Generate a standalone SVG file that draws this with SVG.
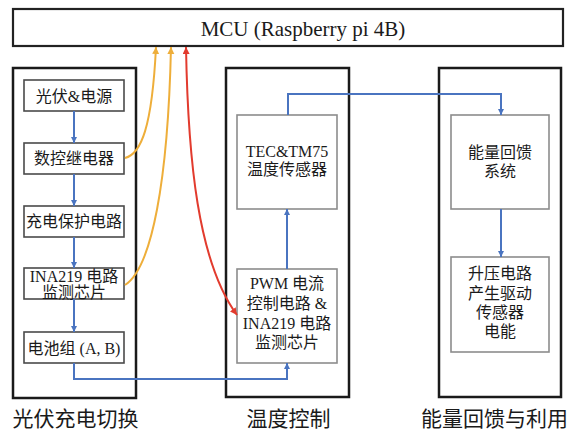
<svg xmlns="http://www.w3.org/2000/svg" width="574" height="432" viewBox="0 0 574 432">
  <style>
    .panel { fill: none; stroke: #1a1a1a; stroke-width: 2.5; }
    .mcu { fill: #fff; stroke: #222; stroke-width: 2.2; }
    .boxL { fill: #fff; stroke: #4a4a4a; stroke-width: 1.6; }
    .boxR { fill: #fff; stroke: #8c8c8c; stroke-width: 1.6; }
    .t { font-family: "Liberation Serif", "Noto Sans CJK SC", serif; font-size: 16px; fill: #1a1a1a; text-anchor: middle; }
    .big { font-family: "Liberation Serif", "Noto Sans CJK SC", serif; font-size: 21px; fill: #1a1a1a; text-anchor: middle; }
    .blue { fill: none; stroke: #4a74c0; stroke-width: 2; marker-end: url(#ab); }
    .orange { fill: none; stroke: #eeae3a; stroke-width: 2; marker-end: url(#ao); }
    .red { fill: none; stroke: #e23b2e; stroke-width: 2; marker-start: url(#ar); marker-end: url(#ar); }
  </style>
  <defs>
    <marker id="ab" markerUnits="userSpaceOnUse" markerWidth="8" markerHeight="8" refX="6" refY="3" orient="auto-start-reverse">
      <path d="M0,0 L6,3 L0,6 Z" fill="#4a74c0"/>
    </marker>
    <marker id="ao" markerUnits="userSpaceOnUse" markerWidth="10" markerHeight="10" refX="7" refY="3.5" orient="auto-start-reverse">
      <path d="M0,0 L7,3.5 L0,7 Z" fill="#eeae3a"/>
    </marker>
    <marker id="ar" markerUnits="userSpaceOnUse" markerWidth="10" markerHeight="10" refX="7" refY="3.5" orient="auto-start-reverse">
      <path d="M0,0 L7,3.5 L0,7 Z" fill="#e23b2e"/>
    </marker>
  </defs>

  <rect width="574" height="432" fill="#fff"/>

  <!-- controller -->
  <g id="mcu">
    <rect class="mcu" x="13" y="9" width="550" height="37"/>
    <text class="big" x="303" y="36">MCU (Raspberry pi 4B)</text>
  </g>

  <!-- panels -->
  <g id="panel-pv">
    <rect class="panel" x="13" y="68" width="123" height="330"/>
    <text class="big" x="75.5" y="426">光伏充电切换</text>
  </g>
  <g id="panel-temp">
    <rect class="panel" x="226" y="68" width="123" height="329"/>
    <text class="big" x="288.5" y="426">温度控制</text>
  </g>
  <g id="panel-energy">
    <rect class="panel" x="439" y="68" width="122" height="329"/>
    <text class="big" x="494.5" y="426">能量回馈与利用</text>
  </g>

  <!-- PV charging column -->
  <g id="pv-source">
    <rect class="boxL" x="24" y="80" width="100" height="31"/>
    <text class="t" x="74" y="101.5">光伏&amp;电源</text>
  </g>
  <g id="relay">
    <rect class="boxL" x="24" y="143" width="100" height="31"/>
    <text class="t" x="74" y="164">数控继电器</text>
  </g>
  <g id="charge-protect">
    <rect class="boxL" x="24" y="206" width="100" height="31"/>
    <text class="t" x="74" y="227">充电保护电路</text>
  </g>
  <g id="ina219-pv">
    <rect class="boxL" x="24" y="268" width="100" height="31"/>
    <text class="t" x="74" y="281.5">INA219 电路</text>
    <text class="t" x="74" y="298">监测芯片</text>
  </g>
  <g id="battery">
    <rect class="boxL" x="24" y="332" width="100" height="31"/>
    <text class="t" x="74" y="353.5">电池组 (A, B)</text>
  </g>

  <!-- temperature column -->
  <g id="tec-sensor">
    <rect class="boxR" x="237" y="115" width="100" height="94"/>
    <text class="t" x="287" y="157">TEC&amp;TM75</text>
    <text class="t" x="287" y="175">温度传感器</text>
  </g>
  <g id="pwm">
    <rect class="boxR" x="237" y="269" width="100" height="94"/>
    <text class="t" x="287" y="289">PWM 电流</text>
    <text class="t" x="287" y="309">控制电路 &amp;</text>
    <text class="t" x="287" y="328.5">INA219 电路</text>
    <text class="t" x="287" y="348">监测芯片</text>
  </g>

  <!-- energy column -->
  <g id="feedback">
    <rect class="boxR" x="451" y="115" width="98" height="94"/>
    <text class="t" x="500" y="158">能量回馈</text>
    <text class="t" x="500" y="177">系统</text>
  </g>
  <g id="boost">
    <rect class="boxR" x="451" y="257" width="98" height="95"/>
    <text class="t" x="500" y="279">升压电路</text>
    <text class="t" x="500" y="298.5">产生驱动</text>
    <text class="t" x="500" y="317.5">传感器</text>
    <text class="t" x="500" y="336.5">电能</text>
  </g>

  <!-- connectors -->
  <g id="connectors">
    <path class="blue" d="M74,111 V143"/>
    <path class="blue" d="M74,174 V206"/>
    <path class="blue" d="M74,237 V268"/>
    <path class="blue" d="M74,299 V332"/>
    <path class="blue" d="M74,363 V379 H287 V363"/>
    <path class="blue" d="M287,269 V209"/>
    <path class="blue" d="M288,115 V94 H501 V115"/>
    <path class="blue" d="M501,209 V257"/>
    <path class="orange" d="M125,158 C141,154 152,128 156,47"/>
    <path class="orange" d="M125,285 C152,268 168,180 171,47"/>
    <path class="red" d="M186,47 C188,160 198,262 237,315"/>
  </g>
</svg>
